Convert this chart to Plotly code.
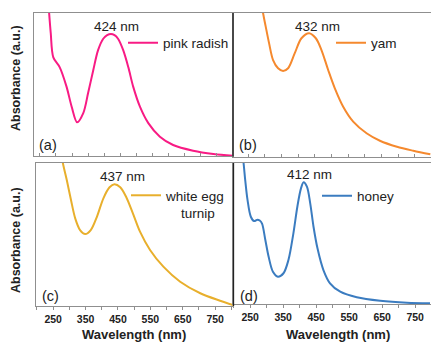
import plotly.graph_objects as go

# ---------------- data ----------------
samples = ["pink radish", "yam", "white egg turnip", "honey"]
peak_labels = ["424 nm", "432 nm", "437 nm", "412 nm"]
panel_tags = ["(a)", "(b)", "(c)", "(d)"]
tick_labels = ["250", "350", "450", "550", "650", "750"]
tick_values = [250, 350, 450, 550, 650, 750]

wl_pink = [220, 229, 234, 242, 262, 283, 299, 316, 335, 350, 366, 381, 397, 409, 421, 432,
           443, 459, 475, 490, 511, 537, 573, 614, 676, 739, 800]
abs_pink = [1.30, 1.00, 0.86, 0.69, 0.62, 0.485, 0.345, 0.236, 0.30, 0.44, 0.60, 0.74, 0.82,
            0.845, 0.853, 0.845, 0.82, 0.74, 0.62, 0.485, 0.345, 0.23, 0.135, 0.077, 0.037,
            0.014, 0.002]

wl_yam = [285, 295, 303, 313, 325, 340, 355, 370, 390, 410, 433, 453, 470, 490, 510, 535,
          565, 605, 645, 696, 745, 796]
abs_yam = [1.15, 1.0, 0.905, 0.79, 0.672, 0.615, 0.596, 0.615, 0.72, 0.824, 0.859, 0.824,
           0.742, 0.603, 0.475, 0.347, 0.243, 0.162, 0.11, 0.068, 0.04, 0.015]

wl_turnip = [270, 280, 292, 305, 318, 333, 349, 366, 385, 405, 424, 439, 457, 475, 496, 518,
             549, 590, 642, 704, 765, 805]
abs_turnip = [1.15, 1.0, 0.881, 0.741, 0.613, 0.531, 0.503, 0.531, 0.624, 0.753, 0.83, 0.851,
              0.83, 0.764, 0.648, 0.52, 0.392, 0.275, 0.17, 0.089, 0.037, 0.007]

wl_honey = [222, 230, 235, 242, 252, 262, 272, 279, 286, 296, 306, 319, 334, 351, 366, 381,
            393, 404, 412, 422, 432, 442, 454, 472, 492, 523, 573, 644, 725, 795]
abs_honey = [1.15, 1.0, 0.879, 0.738, 0.619, 0.588, 0.598, 0.592, 0.57, 0.454, 0.335, 0.229,
             0.194, 0.218, 0.312, 0.501, 0.69, 0.82, 0.863, 0.832, 0.714, 0.548, 0.395, 0.241,
             0.147, 0.087, 0.048, 0.023, 0.009, 0.005]

# ---------------- layout helpers ----------------
W, H = 431, 343
def fx(p):
    return p / W
def fy(p):
    return 1 - p / H

colors = ["#F81B84", "#F5892E", "#E8AF2C", "#3B7CC0"]
GRAY = "#8f8f8f"
FONT = "Liberation Sans, Arial, sans-serif"

# panel boxes in pixels: (left, right, top, bottom), x-range
panels = [
    ((34, 233, 13, 156), [182, 800]),
    ((233, 431, 13, 156.5), [205, 798]),
    ((36, 233, 163, 306), [197, 805]),
    ((233, 431, 163, 304), [198, 798]),
]
series = [(wl_pink, abs_pink), (wl_yam, abs_yam), (wl_turnip, abs_turnip), (wl_honey, abs_honey)]

fig = go.Figure()
layout = dict(
    width=W, height=H, margin=dict(l=0, r=0, t=0, b=0),
    paper_bgcolor="white", plot_bgcolor="white",
    font=dict(family=FONT, color="#222"), showlegend=True,
)

legend_pos = [(123, 43), (331, 43), (126, 195), (317, 196)]
legend_names = ["pink radish", "yam", "white egg<br>\u00a0\u00a0\u00a0\u00a0turnip", "honey"]

for i, ((l, r, t, b), xr) in enumerate(panels):
    n = "" if i == 0 else str(i + 1)
    bottom_row = i >= 2
    xa = dict(
        domain=[fx(l), min(1.0, fx(r))], range=xr, anchor="y" + n,
        showline=True, linecolor=GRAY, linewidth=1, mirror=True,
        showgrid=False, zeroline=False,
        tickvals=tick_values, ticktext=tick_labels,
        showticklabels=bottom_row,
        ticks="outside" if bottom_row else "inside", ticklen=3, tickcolor=GRAY, tickwidth=1,
        minor=dict(ticks="outside" if bottom_row else "inside", dtick=50, tick0=250,
                   ticklen=3, tickcolor=GRAY, tickwidth=1),
        tickfont=dict(size=10.5, family=FONT, weight="bold", color="#222"),
    )
    ya = dict(
        domain=[fy(b), fy(t)], range=[0, 1], anchor="x" + n,
        showline=True, linecolor=GRAY, linewidth=1, mirror=(i in (0, 2)),
        showgrid=False, zeroline=False, showticklabels=False, ticks="",
    )
    layout["xaxis" + n] = xa
    layout["yaxis" + n] = ya
    lg = "legend" + n
    lx, ly = legend_pos[i]
    layout[lg] = dict(
        x=fx(lx), y=fy(ly), xanchor="left", yanchor="middle" if i != 2 else "top",
        bgcolor="rgba(0,0,0,0)", borderwidth=0, valign="top",
        font=dict(size=13.5, family=FONT, color="#222"),
        tracegroupgap=0, itemwidth=30,
    )
    if i == 2:
        layout[lg]["y"] = fy(180)
    wl, ab = series[i]
    fig.add_trace(go.Scatter(
        x=wl, y=ab, mode="lines", name=legend_names[i],
        line=dict(color=colors[i], width=2, shape="spline", smoothing=0.9),
        xaxis="x" + n, yaxis="y" + n, legend=lg, hoverinfo="skip",
    ))

annotations = []
peak_pos = [(116, 26), (317, 26.5), (122, 176.5), (309, 174.5)]
for (px, py), txt in zip(peak_pos, peak_labels):
    annotations.append(dict(x=fx(px), y=fy(py), xref="paper", yref="paper", text=txt,
                            showarrow=False, xanchor="center", yanchor="middle",
                            font=dict(size=13.5, family=FONT, color="#222")))
tag_pos = [(37, 145), (237, 145), (40, 296), (238, 296)]
for (px, py), txt in zip(tag_pos, panel_tags):
    annotations.append(dict(x=fx(px), y=fy(py), xref="paper", yref="paper", text=txt,
                            showarrow=False, xanchor="left", yanchor="middle",
                            font=dict(size=14.5, family=FONT, color="#222")))
for py in (78, 240):
    annotations.append(dict(x=fx(16), y=fy(py), xref="paper", yref="paper",
                            text="Absorbance (a.u.)", textangle=-90, showarrow=False,
                            xanchor="center", yanchor="middle",
                            font=dict(size=12.5, family=FONT, weight="bold", color="#222")))
for px in (134, 338):
    annotations.append(dict(x=fx(px), y=fy(334), xref="paper", yref="paper",
                            text="Wavelength (nm)", showarrow=False,
                            xanchor="center", yanchor="middle",
                            font=dict(size=13, family=FONT, weight="bold", color="#222")))
layout["annotations"] = annotations

layout["shapes"] = [
    dict(type="line", xref="paper", yref="paper", x0=fx(233), x1=fx(233), y0=fy(156.5), y1=fy(13),
         line=dict(color="#222", width=1.3)),
    dict(type="line", xref="paper", yref="paper", x0=fx(233.5), x1=fx(233.5), y0=fy(306), y1=fy(163),
         line=dict(color="#222", width=1.3)),
]

fig.update_layout(**layout)
fig.write_html(
    "out.html",
    config={"displayModeBar": False},
    post_script="document.body.style.margin='0';document.body.style.overflow='hidden';",
)
